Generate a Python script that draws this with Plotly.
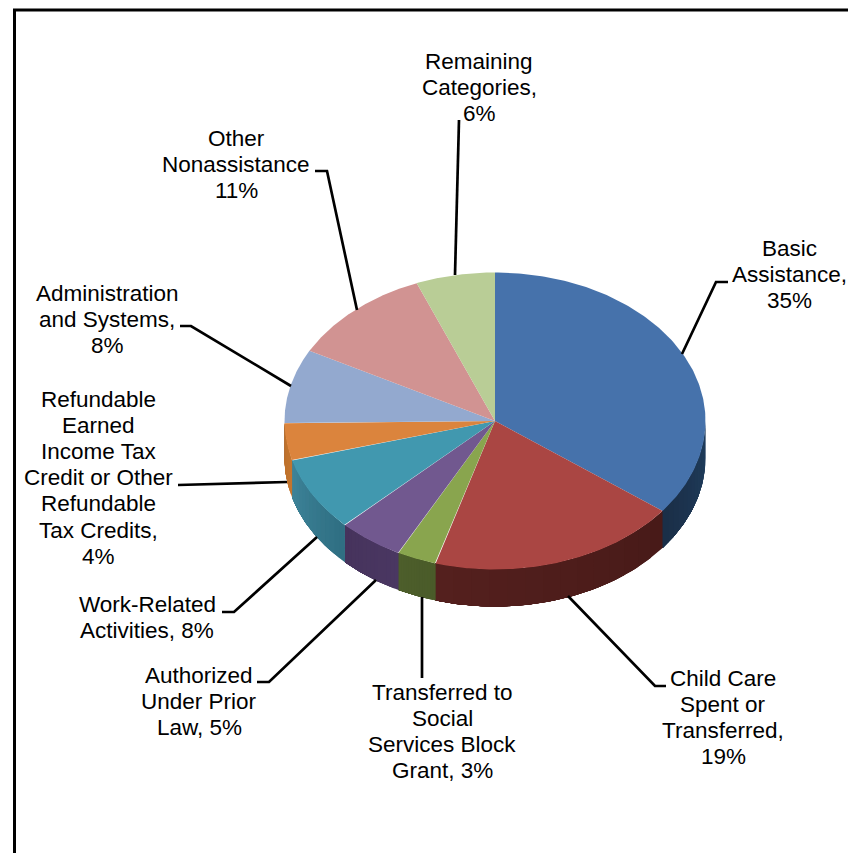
import numpy as np
import plotly.graph_objects as go

# TANF spending shares, clockwise from twelve o'clock
categories = [
    "Basic Assistance", "Child Care Spent or Transferred",
    "Transferred to Social Services Block Grant", "Authorized Under Prior Law",
    "Work-Related Activities",
    "Refundable Earned Income Tax Credit or Other Refundable Tax Credits",
    "Administration and Systems", "Other Nonassistance", "Remaining Categories",
]
shares = [35, 19, 3, 5, 8, 4, 8, 11, 6]

top_colors = ["#4672AB", "#AA4643", "#89A54E", "#71588F", "#4198AF",
              "#DB843D", "#93A9CF", "#D19392", "#B9CD96"]
# Wall shading at the start and end of each slice (only front slices show a wall)
wall_start = ["#203E5E", "#481A18", "#4A5B29", "#4A3762", "#2F6E82",
              "#C4762F", "#7F93B5", "#B57F7E", "#A0B282"]
wall_end = ["#1A2E47", "#54201E", "#4D5E2B", "#46335C", "#3D8499",
            "#BC702C", "#7F93B5", "#B57F7E", "#A0B282"]

# Pie projection, in page pixels
CX, CY, RX, RY, DEPTH = 495.0, 421.0, 210.5, 148.5, 37.0

# Label lines with the centre of each text block
label_blocks = [
    (["Basic", "Assistance,", "35%"], 789, 248),
    (["Child Care", "Spent or", "Transferred,", "19%"], 723, 678),
    (["Transferred to", "Social", "Services Block", "Grant, 3%"], 442, 692),
    (["Authorized", "Under Prior", "Law, 5%"], 199, 675),
    (["Work-Related", "Activities, 8%"], 147, 604),
    (["Refundable", "Earned", "Income Tax", "Credit or Other", "Refundable",
      "Tax Credits,", "4%"], 98, 399),
    (["Administration", "and Systems,", "8%"], 107, 293),
    (["Other", "Nonassistance", "11%"], 236, 138),
    (["Remaining", "Categories,", "6%"], 479, 61),
]
LINE_PITCH = 26.2

leaders = [
    ([682, 716, 728], [354, 282, 282]),
    ([568, 655, 666], [596, 686, 686]),
    ([422, 422], [597, 678]),
    ([376, 269, 257], [580, 682, 682]),
    ([317, 234, 222], [537, 612, 612]),
    ([287, 178], [482, 485]),
    ([291, 191, 180], [386, 326, 326]),
    ([357, 327, 315], [310, 171, 171]),
    ([455, 459], [275, 120]),
]


def ellipse(theta, drop=0.0):
    """Project clockwise-from-top angles onto the tilted pie."""
    return CX + RX * np.sin(theta), CY - RY * np.cos(theta) + drop


def mix(c0, c1, t):
    a = np.array([int(c0[i:i + 2], 16) for i in (1, 3, 5)])
    b = np.array([int(c1[i:i + 2], 16) for i in (1, 3, 5)])
    r, g, bl = (a + (b - a) * t).round().astype(int)
    return f"rgb({r},{g},{bl})"


def polygon(xs, ys, color):
    return go.Scatter(
        x=xs, y=ys, mode="lines", fill="toself", fillcolor=color,
        line=dict(width=0), hoverinfo="skip", showlegend=False,
    )


fig = go.Figure()

values = np.array(shares, dtype=float)
edges = np.concatenate([[0.0], np.cumsum(values) / values.sum()]) * 2 * np.pi

# Side wall: only the near half of the rim shows. Each shade band runs on to the
# end of the slice, so the next band paints over it without a seam.
for i in range(len(values)):
    a0, a1 = max(edges[i], np.pi / 2), min(edges[i + 1], 3 * np.pi / 2)
    if a1 <= a0:
        continue
    bands = 14
    cuts = np.linspace(a0, a1, bands + 1)
    for k in range(bands):
        th = np.linspace(cuts[k], a1, 80)
        x_up, y_up = ellipse(th)
        x_lo, y_lo = ellipse(th[::-1], DEPTH)
        fig.add_trace(polygon(
            np.r_[x_up, x_lo, x_up[0]], np.r_[y_up, y_lo, y_up[0]],
            mix(wall_start[i], wall_end[i], (k + 0.5) / bands),
        ))

# Top face
for i in range(len(values)):
    th = np.linspace(edges[i], edges[i + 1], 160)
    x_rim, y_rim = ellipse(th)
    fig.add_trace(polygon(np.r_[CX, x_rim, CX], np.r_[CY, y_rim, CY], top_colors[i]))

# Leader lines
for xs, ys in leaders:
    fig.add_trace(go.Scatter(
        x=xs, y=ys, mode="lines", line=dict(color="#000000", width=2.7),
        hoverinfo="skip", showlegend=False,
    ))

# Data labels, one annotation per text line for tight line spacing
annotations = []
for lines, cx, first_y in label_blocks:
    for j, text in enumerate(lines):
        annotations.append(dict(
            x=cx, y=first_y + j * LINE_PITCH, xref="x", yref="y", text=text,
            showarrow=False, xanchor="center", yanchor="middle",
            font=dict(family="Liberation Sans, Arial, sans-serif", size=22.5, color="#000000"),
        ))

fig.update_layout(
    width=848, height=853, margin=dict(l=0, r=0, t=0, b=0),
    paper_bgcolor="#FFFFFF", plot_bgcolor="#FFFFFF", showlegend=False,
    xaxis=dict(range=[0, 848], visible=False, fixedrange=True),
    yaxis=dict(range=[853, 0], visible=False, fixedrange=True),
    annotations=annotations,
    # Chart frame runs off the right and bottom of the page
    shapes=[dict(type="path", path="M 14.5 853 L 14.5 10 L 848 10", xref="x", yref="y",
                 line=dict(color="#000000", width=3))],
)

fig.write_html("out.html", config=dict(displayModeBar=False))
